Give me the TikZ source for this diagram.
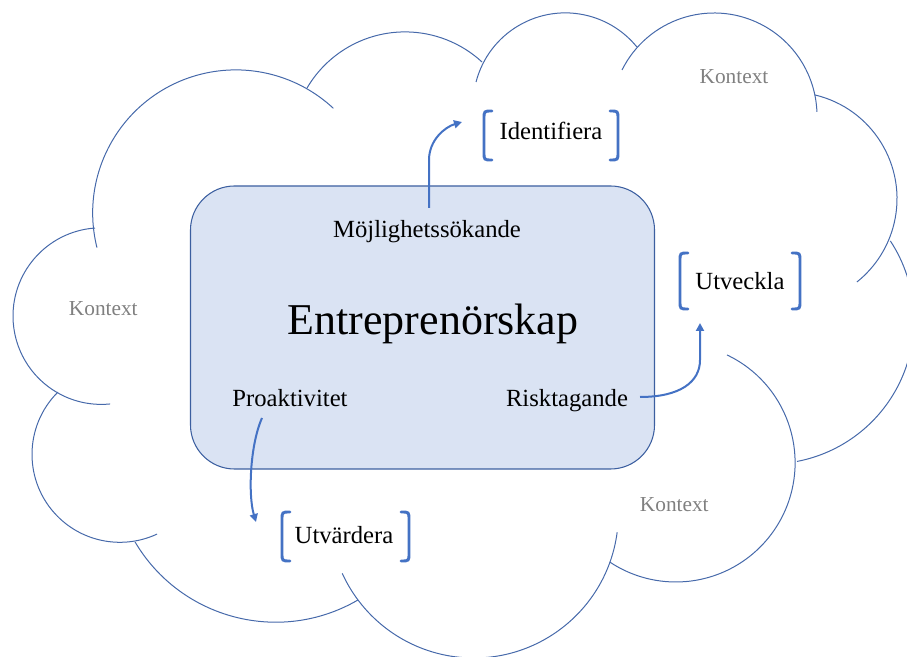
\documentclass[tikz,border=0pt]{standalone}
\usepackage{fontspec}
\setmainfont{Liberation Serif}
\usetikzlibrary{arrows.meta}
\definecolor{cloudline}{RGB}{70,105,170}
\definecolor{boxfill}{RGB}{218,227,243}
\definecolor{boxline}{RGB}{60,95,160}
\definecolor{accent}{RGB}{68,114,196}
\definecolor{ctxgray}{RGB}{128,128,128}
\begin{document}
\begin{tikzpicture}[x=0.75pt,y=0.75pt,
  cloudarc/.style={draw=cloudline,line width=0.75pt},
  flow/.style={draw=accent,line width=1.5pt,-{Triangle[length=6pt,width=6pt]}},
  brk/.style={draw=accent,line width=2.2pt,line cap=round},
  lbl/.style={font=\fontsize{18.5}{22}\selectfont,anchor=base,inner sep=0pt},
  ctx/.style={font=\fontsize{16}{19}\selectfont,text=ctxgray,anchor=base,inner sep=0pt},
  titletext/.style={font=\fontsize{33}{40}\selectfont,anchor=base,inner sep=0pt},
  corebox/.style={draw=boxline,fill=boxfill,line width=0.8pt,rounded corners=33pt}]
\useasboundingbox (0,0) rectangle (907,657);
\clip (0,0) rectangle (907,657);

% cloud lobes
\draw[cloudarc] (235.8,444.0) ++(-166:143.1) arc[start angle=-166, end angle=-313, radius=143.1];
\draw[cloudarc] (405.0,511.5) ++(-210.4:113.6) arc[start angle=-210.4, end angle=-312.7, radius=113.6];
\draw[cloudarc] (565.3,551.9) ++(-194.5:92.2) arc[start angle=-194.5, end angle=-321, radius=92.2];
\draw[cloudarc] (714.1,541.1) ++(-206.5:102.9) arc[start angle=-206.5, end angle=-357.8, radius=102.9];
\draw[cloudarc] (790.4,458.3) ++(-283.3:106.6) arc[start angle=-283.3, end angle=-411.4, radius=106.6];
\draw[cloudarc] (770,337) ++(33.3:144) arc[start angle=33.3, end angle=-79.2, radius=144];
\draw[cloudarc] (675.8,194.3) ++(-295.4:119.3) arc[start angle=-295.4, end angle=-483.5, radius=119.3];
\draw[cloudarc] (473.8,143.6) ++(-7.5:144.6) arc[start angle=-7.5, end angle=-155.5, radius=144.6];
\draw[cloudarc] (275.7,198.2) ++(-59.8:163.4) arc[start angle=-59.8, end angle=-149.4, radius=163.4];
\draw[cloudarc] (119.9,202.6) ++(-225.2:87.9) arc[start angle=-225.2, end angle=-65, radius=87.9];
\draw[cloudarc] (101.3,340.9) ++(-265.9:88.3) arc[start angle=-265.9, end angle=-84.3, radius=88.3];

% central box
\draw[corebox] (190.5,188) rectangle (654.5,471);

% texts
\node[titletext] (core) at (433,322) {Entreprenörskap};
\node[lbl] (moj) at (427,419.5) {Möjlighetssökande};
\node[lbl] (pro) at (290,250) {Proaktivitet};
\node[lbl] (risk) at (567,250) {Risktagande};
\node[lbl] (ident) at (551,517.5) {Identifiera};
\node[lbl] (utv) at (740,367.7) {Utveckla};
\node[lbl] (utvd) at (344,113.3) {Utvärdera};
\node[ctx] (k1) at (103.3,341) {Kontext};
\node[ctx] (k2) at (734,573) {Kontext};
\node[ctx] (k3) at (674.3,145.7) {Kontext};

% brackets
\draw[brk] (492,546) .. controls (484,546) .. (484,538) -- (484,505) .. controls (484,497) .. (492,497);
\draw[brk] (610,546) .. controls (618,546) .. (618,538) -- (618,505) .. controls (618,497) .. (610,497);
\draw[brk] (688,404) .. controls (680,404) .. (680,396) -- (680,356) .. controls (680,348) .. (688,348);
\draw[brk] (792,404) .. controls (800,404) .. (800,396) -- (800,356) .. controls (800,348) .. (792,348);
\draw[brk] (290,145) .. controls (282,145) .. (282,137) -- (282,104) .. controls (282,96) .. (290,96);
\draw[brk] (401,145) .. controls (409,145) .. (409,137) -- (409,104) .. controls (409,96) .. (401,96);

% connectors
\coordinate (mojstart) at (429,449);
\coordinate (identtip) at (462,535);
\coordinate (riskstart) at (640,260);
\coordinate (utvtip) at (700,334);
\coordinate (prostart) at (262,239);
\coordinate (utvdtip) at (256,135);
\draw[flow] (mojstart) -- (429,497) .. controls (429,517) and (445,530) .. (identtip);
\draw[flow] (riskstart) .. controls (680,260) and (700,275) .. (700,297) -- (utvtip);
\draw[flow] (prostart) .. controls (250,212) and (248,162) .. (utvdtip);
\end{tikzpicture}
\end{document}
